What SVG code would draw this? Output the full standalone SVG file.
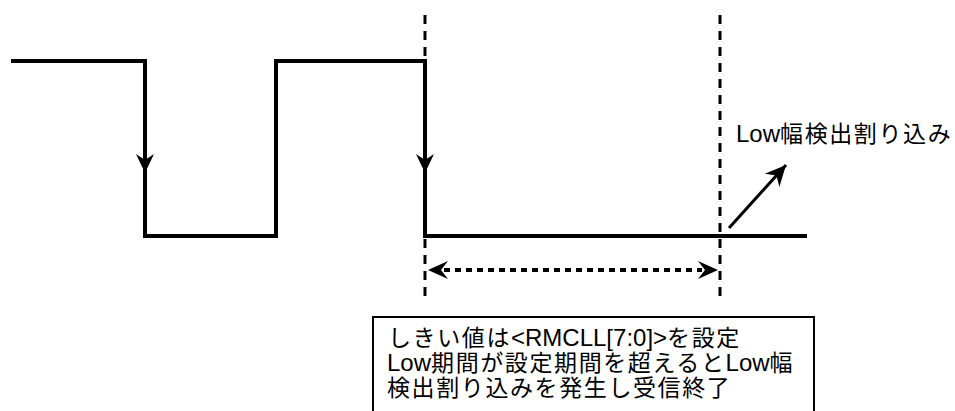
<svg xmlns="http://www.w3.org/2000/svg" width="955" height="411" viewBox="0 0 955 411">
<style>
.wave{fill:none;stroke:#000;stroke-width:4;stroke-linejoin:miter}
.guide{fill:none;stroke:#000;stroke-width:3;stroke-dasharray:9 7}
.dim{fill:none;stroke:#000;stroke-width:4;stroke-dasharray:6 5}
.ptr{fill:none;stroke:#000;stroke-width:3}
.head{fill:#000;stroke:none}
.txt{font-family:"Liberation Sans","Noto Sans CJK JP",sans-serif;font-size:23px;fill:#000}
.l{font-size:24px;letter-spacing:0}
.c{letter-spacing:1.6px}
</style>
<defs>
<marker id="ah" markerUnits="userSpaceOnUse" markerWidth="24" markerHeight="24" viewBox="-20 -10 22 20" refX="0" refY="0" orient="auto">
<path d="M0,0 L-19,-9 L-13,0 L-19,9 Z" class="head"/>
</marker>
</defs>
<g id="connectors">
<path id="waveform" class="wave" d="M11,61 H145 V236 H276 V61 H425 V236 H807"/>
<path class="head" d="M145,173 L136,154 L145,160 L154,154 Z"/>
<path class="head" d="M425,173 L416,154 L425,160 L434,154 Z"/>
<line class="guide" x1="425" y1="15" x2="425" y2="300"/>
<line class="guide" x1="720" y1="15" x2="720" y2="300"/>
<line class="dim" x1="444" y1="270" x2="702" y2="270"/>
<path class="head" d="M428,270 L448,261 L441,270 L448,279 Z"/>
<path class="head" d="M718,270 L698,261 L705,270 L698,279 Z"/>
<line class="ptr" x1="729" y1="228" x2="786" y2="165" marker-end="url(#ah)"/>
</g>
<g id="label-interrupt">
<text class="txt" x="736" y="142"><tspan class="l">Low</tspan><tspan class="c">幅検出割り込み</tspan></text>
</g>
<g id="note-box">
<rect x="373" y="317" width="441" height="110" fill="#fff" stroke="#000" stroke-width="2"/>
<text class="txt" x="388" y="346"><tspan class="c">しきい値は</tspan><tspan class="l">&lt;RMCLL[7:0]&gt;</tspan><tspan class="c">を設定</tspan></text>
<text class="txt" x="387" y="371"><tspan class="l">Low</tspan><tspan class="c">期間が設定期間を超えると</tspan><tspan class="l">Low</tspan><tspan class="c">幅</tspan></text>
<text class="txt" x="387" y="396"><tspan class="c">検出割り込みを発生し受信終了</tspan></text>
</g>
</svg>
